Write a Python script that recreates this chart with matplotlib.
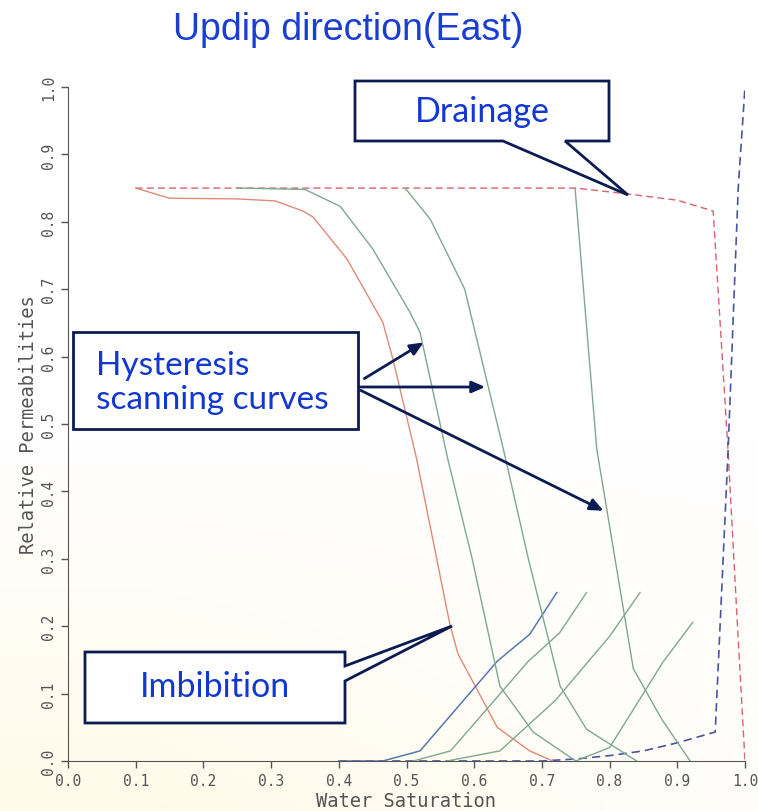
import matplotlib.pyplot as plt
import numpy as np
from matplotlib.patches import Polygon

# Drainage curves (dashed)
sw_kro_drain = [0.10, 0.30, 0.50, 0.75, 0.83, 0.90, 0.953, 0.975, 0.99, 1.0]
kro_drain = [0.85, 0.85, 0.85, 0.85, 0.841, 0.832, 0.816, 0.46, 0.18, 0.0]
sw_krw_drain = [0.40, 0.60, 0.70, 0.75, 0.80, 0.85, 0.90, 0.956, 0.975, 0.99, 1.0]
krw_drain = [0.0, 0.0, 0.0, 0.003, 0.008, 0.015, 0.027, 0.043, 0.46, 0.85, 1.0]

# Imbibition oil curve (red solid)
sw_kro_imb = [0.10, 0.15, 0.25, 0.306, 0.347, 0.362, 0.412, 0.465, 0.48, 0.515,
              0.564, 0.576, 0.634, 0.682, 0.716]
kro_imb = [0.85, 0.835, 0.834, 0.831, 0.816, 0.807, 0.745, 0.651, 0.596, 0.448,
           0.203, 0.159, 0.05, 0.015, 0.0]

# Imbibition water curve (blue solid)
sw_krw_imb = [0.40, 0.465, 0.52, 0.634, 0.682, 0.722]
krw_imb = [0.0, 0.0, 0.015, 0.148, 0.188, 0.25]

# Hysteresis scanning curves - oil (green, descending)
scan_oil = [
    ([0.25, 0.35, 0.402, 0.45, 0.505, 0.52, 0.561, 0.597, 0.638, 0.687, 0.75],
     [0.85, 0.848, 0.823, 0.76, 0.666, 0.636, 0.448, 0.30, 0.111, 0.043, 0.0]),
    ([0.498, 0.535, 0.586, 0.643, 0.68, 0.727, 0.766, 0.84],
     [0.85, 0.804, 0.70, 0.463, 0.30, 0.111, 0.047, 0.0]),
    ([0.749, 0.781, 0.808, 0.835, 0.877, 0.919],
     [0.85, 0.463, 0.30, 0.137, 0.062, 0.0]),
]

# Hysteresis scanning curves - water (green, ascending)
scan_water = [
    ([0.51, 0.565, 0.68, 0.726, 0.766], [0.0, 0.015, 0.148, 0.19, 0.25]),
    ([0.56, 0.638, 0.72, 0.80, 0.845], [0.0, 0.015, 0.09, 0.185, 0.25]),
    ([0.75, 0.80, 0.879, 0.923], [0.0, 0.02, 0.147, 0.206]),
]

ticks = [0.0, 0.1, 0.2, 0.3, 0.4, 0.5, 0.6, 0.7, 0.8, 0.9, 1.0]

W, H = 758, 812
fig = plt.figure(figsize=(W / 100, H / 100), dpi=100)
fig.patch.set_facecolor('white')

# faint cream tint towards the lower left, like the scanned slide
bg = fig.add_axes([0, 0, 1, 1], zorder=-10)
gx, gy = np.meshgrid(np.linspace(0, 1, 200), np.linspace(0, 1, 200))
tint = np.clip((gy - 0.55) * 2.2, 0, 1) * np.clip(1.2 - gx, 0, 1)
img = np.ones((200, 200, 3))
img[..., 2] -= 0.09 * tint
img[..., 1] -= 0.02 * tint
bg.imshow(img, extent=[0, 1, 0, 1], aspect='auto', origin='upper')
bg.axis('off')

ax = fig.add_axes([68 / W, 1 - 762 / H, (745 - 68) / W, (762 - 88) / H])

ax.plot(sw_kro_drain, kro_drain, color='#d86070', lw=1.0, dashes=(5, 3))
ax.plot(sw_krw_drain, krw_drain, color='#4a55a0', lw=1.2, dashes=(5, 3))
ax.plot(sw_kro_imb, kro_imb, color='#e08a78', lw=1.0)
ax.plot(sw_krw_imb, krw_imb, color='#5878b0', lw=1.1)
for x, y in scan_oil:
    ax.plot(x, y, color='#7fa88e', lw=1.0)
for x, y in scan_water:
    ax.plot(x, y, color='#7fa88e', lw=1.0)

ax.set_xlim(0, 1.0)
ax.set_ylim(0, 1.0)
ax.set_xticks(ticks)
ax.set_yticks(ticks)
ax.set_xticklabels([f'{t:.1f}' for t in ticks])
ax.set_yticklabels([f'{t:.1f}' for t in ticks], rotation=90, va='center')
for s in ['top', 'right']:
    ax.spines[s].set_visible(False)
for s in ['left', 'bottom']:
    ax.spines[s].set_color('#555555')
ax.tick_params(colors='#555555', labelsize=10.5, length=5, width=1.0)
for lab in ax.get_xticklabels() + ax.get_yticklabels():
    lab.set_family('DejaVu Sans Mono')
ax.set_xlabel('Water Saturation', family='DejaVu Sans Mono', fontsize=13.5,
              color='#555555', labelpad=2)
ax.set_ylabel('Relative Permeabilities', family='DejaVu Sans Mono', fontsize=13.5,
              color='#555555', labelpad=2)
ax.set_facecolor('none')

fig.text(348 / W, 1 - 30 / H, 'Updip direction(East)', color='#1a3fd0',
         fontsize=27, family='Liberation Sans', ha='center', va='center')


def px(x, y):
    return (x / W, 1 - y / H)


navy = '#0b1c52'
blue = '#1238d0'

# Drainage callout
drain_pts = [(355, 82), (609, 82), (609, 142), (565, 142), (628, 196),
             (503, 142), (355, 142)]
fig.patches.append(Polygon([px(*p) for p in drain_pts], closed=True,
                           transform=fig.transFigure, facecolor='white',
                           edgecolor=navy, lw=2))
fig.text(482 / W, 1 - 112 / H, 'Drainage', color=blue, fontsize=24.5,
         family='Lato', ha='center', va='center')

# Imbibition callout
imb_pts = [(85, 653), (345, 653), (345, 667), (452, 627), (345, 682),
           (345, 724), (85, 724)]
fig.patches.append(Polygon([px(*p) for p in imb_pts], closed=True,
                           transform=fig.transFigure, facecolor='white',
                           edgecolor=navy, lw=2))
fig.text(215 / W, 1 - 687 / H, 'Imbibition', color=blue, fontsize=24.5,
         family='Lato', ha='center', va='center')

# Hysteresis box with arrows
hyst_pts = [(73, 333), (358, 333), (358, 430), (73, 430)]
fig.patches.append(Polygon([px(*p) for p in hyst_pts], closed=True,
                           transform=fig.transFigure, facecolor='white',
                           edgecolor=navy, lw=2))
fig.text(96 / W, 1 - 383 / H, 'Hysteresis\nscanning curves', color=blue,
         fontsize=24, family='Lato', ha='left', va='center', linespacing=1.2)
for start, end in [((362, 381), (426, 342)), ((356, 388), (488, 388)),
                   ((358, 390), (606, 513))]:
    ax.annotate('', xy=px(*end), xycoords='figure fraction',
                xytext=px(*start), textcoords='figure fraction',
                arrowprops=dict(arrowstyle='-|>,head_length=0.8,head_width=0.35',
                                color=navy, lw=2))

plt.savefig('out.png', dpi=100)
